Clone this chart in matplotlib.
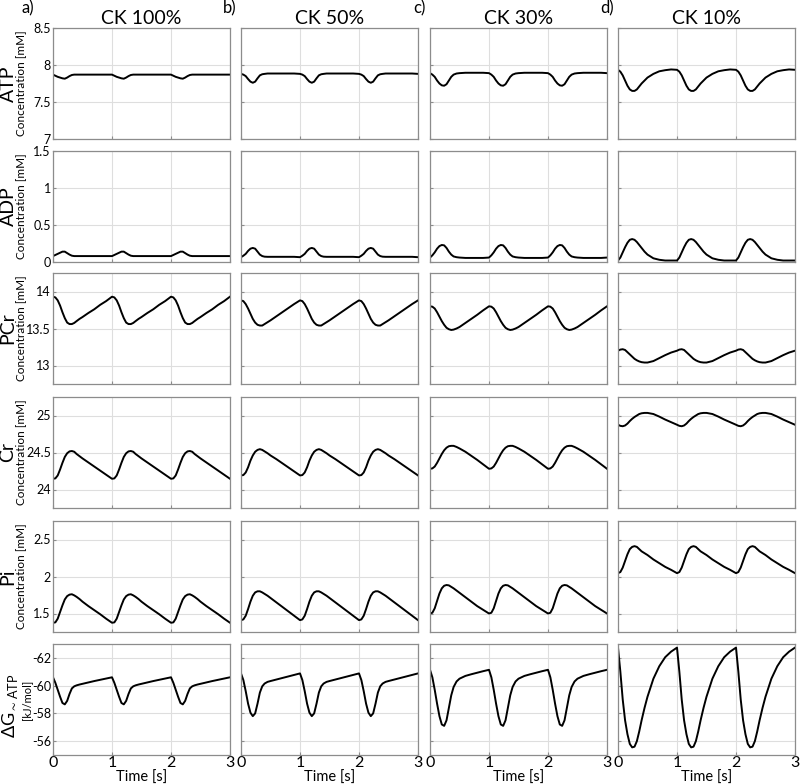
import numpy as np
import matplotlib
matplotlib.use("Agg")
import matplotlib.pyplot as plt

plt.rcParams['font.family'] = ['Lato', 'DejaVu Sans']

# ---------------- data (one stimulation cycle, period 1 s, repeated 3x) ----------------
t_cycle = [0, .04, .08, .12, .16, .2, .24, .28, .32, .36, .4, .45, .5, .6, .7, .8, .9]
n_cycles = 3

columns = ["CK 100%", "CK 50%", "CK 30%", "CK 10%"]
panel_letters = ["a)", "b)", "c)", "d)"]

atp = [
    [7.87, 7.855, 7.84, 7.83, 7.82, 7.815, 7.83, 7.85, 7.865, 7.87, 7.87, 7.87, 7.87, 7.87, 7.87, 7.87, 7.87],
    [7.88, 7.87, 7.85, 7.81, 7.775, 7.76, 7.775, 7.82, 7.86, 7.875, 7.88, 7.885, 7.885, 7.885, 7.885, 7.885, 7.885],
    [7.89, 7.87, 7.84, 7.79, 7.75, 7.725, 7.72, 7.74, 7.79, 7.84, 7.87, 7.885, 7.89, 7.895, 7.895, 7.895, 7.895],
    [7.935, 7.91, 7.86, 7.79, 7.72, 7.67, 7.65, 7.65, 7.67, 7.71, 7.75, 7.79, 7.83, 7.88, 7.915, 7.93, 7.94],
]
adp = [
    [0.08, 0.095, 0.11, 0.125, 0.14, 0.14, 0.12, 0.10, 0.085, 0.08, 0.08, 0.08, 0.08, 0.08, 0.08, 0.08, 0.08],
    [0.065, 0.085, 0.11, 0.15, 0.18, 0.19, 0.18, 0.14, 0.10, 0.08, 0.072, 0.07, 0.07, 0.07, 0.07, 0.07, 0.07],
    [0.06, 0.09, 0.13, 0.18, 0.215, 0.23, 0.225, 0.19, 0.14, 0.10, 0.075, 0.065, 0.06, 0.055, 0.055, 0.055, 0.055],
    [0.02, 0.06, 0.13, 0.20, 0.26, 0.30, 0.31, 0.30, 0.27, 0.23, 0.19, 0.14, 0.10, 0.05, 0.03, 0.02, 0.02],
]
pcr = [
    [13.93, 13.92, 13.88, 13.81, 13.72, 13.64, 13.58, 13.56, 13.56, 13.575, 13.60, 13.63, 13.655, 13.71, 13.76, 13.82, 13.87],
    [13.88, 13.87, 13.83, 13.77, 13.70, 13.63, 13.58, 13.55, 13.54, 13.54, 13.56, 13.585, 13.61, 13.665, 13.72, 13.775, 13.83],
    [13.80, 13.795, 13.77, 13.72, 13.66, 13.60, 13.55, 13.51, 13.49, 13.48, 13.485, 13.50, 13.52, 13.575, 13.63, 13.685, 13.745],
    [13.20, 13.215, 13.22, 13.21, 13.18, 13.15, 13.12, 13.09, 13.07, 13.055, 13.045, 13.04, 13.04, 13.06, 13.10, 13.14, 13.175],
]
cr = [
    [24.145, 24.15, 24.19, 24.27, 24.36, 24.44, 24.49, 24.515, 24.52, 24.51, 24.48, 24.45, 24.42, 24.365, 24.31, 24.255, 24.20],
    [24.19, 24.195, 24.23, 24.30, 24.39, 24.46, 24.51, 24.535, 24.545, 24.535, 24.515, 24.49, 24.46, 24.41, 24.355, 24.30, 24.245],
    [24.28, 24.285, 24.31, 24.36, 24.42, 24.48, 24.53, 24.565, 24.585, 24.59, 24.59, 24.575, 24.555, 24.51, 24.455, 24.40, 24.34],
    [24.875, 24.86, 24.855, 24.865, 24.89, 24.925, 24.955, 24.98, 25.0, 25.02, 25.03, 25.035, 25.035, 25.02, 24.985, 24.945, 24.91],
]
pi = [
    [1.375, 1.38, 1.43, 1.52, 1.61, 1.69, 1.735, 1.755, 1.76, 1.745, 1.725, 1.695, 1.66, 1.60, 1.545, 1.49, 1.43],
    [1.41, 1.42, 1.47, 1.56, 1.66, 1.74, 1.785, 1.80, 1.80, 1.785, 1.765, 1.74, 1.71, 1.65, 1.59, 1.53, 1.47],
    [1.50, 1.51, 1.57, 1.67, 1.77, 1.84, 1.875, 1.885, 1.88, 1.86, 1.84, 1.81, 1.78, 1.72, 1.66, 1.60, 1.55],
    [2.045, 2.06, 2.12, 2.21, 2.30, 2.37, 2.40, 2.41, 2.40, 2.37, 2.34, 2.315, 2.29, 2.23, 2.18, 2.13, 2.09],
]
dg = [
    [-60.6, -60.2, -59.7, -59.2, -58.75, -58.65, -58.9, -59.4, -59.8, -59.95, -60.02, -60.08, -60.13, -60.23, -60.33, -60.42, -60.51],
    [-60.88, -60.4, -59.6, -58.7, -58.05, -57.8, -58.0, -58.7, -59.5, -59.95, -60.15, -60.27, -60.33, -60.44, -60.55, -60.66, -60.77],
    [-61.14, -60.6, -59.7, -58.7, -57.8, -57.2, -57.1, -57.5, -58.4, -59.3, -59.9, -60.3, -60.5, -60.7, -60.82, -60.93, -61.04],
    [-62.74, -61.0, -59.0, -57.5, -56.5, -55.8, -55.55, -55.6, -56.0, -56.7, -57.5, -58.4, -59.2, -60.5, -61.4, -62.05, -62.45],
]

row_names = ["ATP", "ADP", "PCr", "Cr", "Pi"]
row_data = [atp, adp, pcr, cr, pi, dg]
row_ylim = [(7, 8.5), (0, 1.5), (12.75, 14.25), (23.75, 25.25), (1.25, 2.75), (-55, -63)]
row_yticks = [[7, 7.5, 8, 8.5], [0, 0.5, 1, 1.5], [13, 13.5, 14], [24, 24.5, 25],
              [1.5, 2, 2.5], [-62, -60, -58, -56]]
row_yticklabels = [["7", "7.5", "8", "8.5"], ["0", "0.5", "1", "1.5"], ["13", "13.5", "14"],
                   ["24", "24.5", "25"], ["1.5", "2", "2.5"], ["-62", "-60", "-58", "-56"]]
xticks = [0, 1, 2, 3]


def full_series(vals):
    t = np.concatenate([np.array(t_cycle) + k for k in range(n_cycles)] + [[n_cycles]])
    v = np.concatenate([np.array(vals)] * n_cycles + [[vals[0]]])
    return t, v


# ---------------- layout ----------------
W, H = 800, 784
fig = plt.figure(figsize=(W / 100, H / 100), dpi=100)

col_left = [53, 241, 430, 618]
col_w = 177
row_top = [28, 151, 273, 397, 521, 644]
row_h = 111

spine_c = "#8c8c8c"
grid_c = "#dedede"

for r in range(6):
    for c in range(4):
        x0 = col_left[c] / W
        y0 = 1 - (row_top[r] + row_h) / H
        ax = fig.add_axes([x0, y0, col_w / W, row_h / H])
        t, v = full_series(row_data[r][c])
        ax.plot(t, v, color="black", lw=1.4, solid_joinstyle="round")
        ax.set_xlim(0, 3)
        ax.set_ylim(*row_ylim[r])
        ax.set_xticks(xticks)
        ax.set_yticks(row_yticks[r])
        ax.grid(True, color=grid_c, lw=0.8)
        ax.set_axisbelow(True)
        for s in ax.spines.values():
            s.set_color(spine_c)
            s.set_linewidth(0.9)
        ax.tick_params(direction="in", length=2.5, color=spine_c, width=0.8,
                       labelsize=9, pad=1.5)
        ax.tick_params(axis="x", labelsize=11.5, pad=1)
        if c == 0:
            ax.set_yticklabels(row_yticklabels[r])
        else:
            ax.set_yticklabels([])
        if r == 5:
            ax.set_xticklabels([str(x) for x in xticks])
            ax.set_xlabel("Time [s]", fontsize=10.5, labelpad=0)
        else:
            ax.set_xticklabels([])
        if r == 0:
            ax.set_title(columns[c], fontsize=14, pad=3)

# panel letters
for c, lx in enumerate([22, 223, 413, 600]):
    fig.text(lx / W, 1 - 8 / H, panel_letters[c], fontsize=12, ha="left", va="center")

# row labels
for r in range(5):
    yc = 1 - (row_top[r] + row_h / 2) / H
    fig.text(8 / W, yc, row_names[r], fontsize=14, rotation=90, ha="center", va="center")
    fig.text(20.5 / W, yc, "Concentration [mM]", fontsize=8.5, rotation=90, ha="center", va="center")

# Delta G label
fig.text(10.5 / W, 1 - 706 / H, r"ΔG$_{\mathregular{\sim ATP}}$", fontsize=13, rotation=90,
         ha="center", va="center")
fig.text(26.5 / W, 1 - 700 / H, "[kJ/mol]", fontsize=8, rotation=90, ha="center", va="center")

fig.savefig("out.png", dpi=100)
